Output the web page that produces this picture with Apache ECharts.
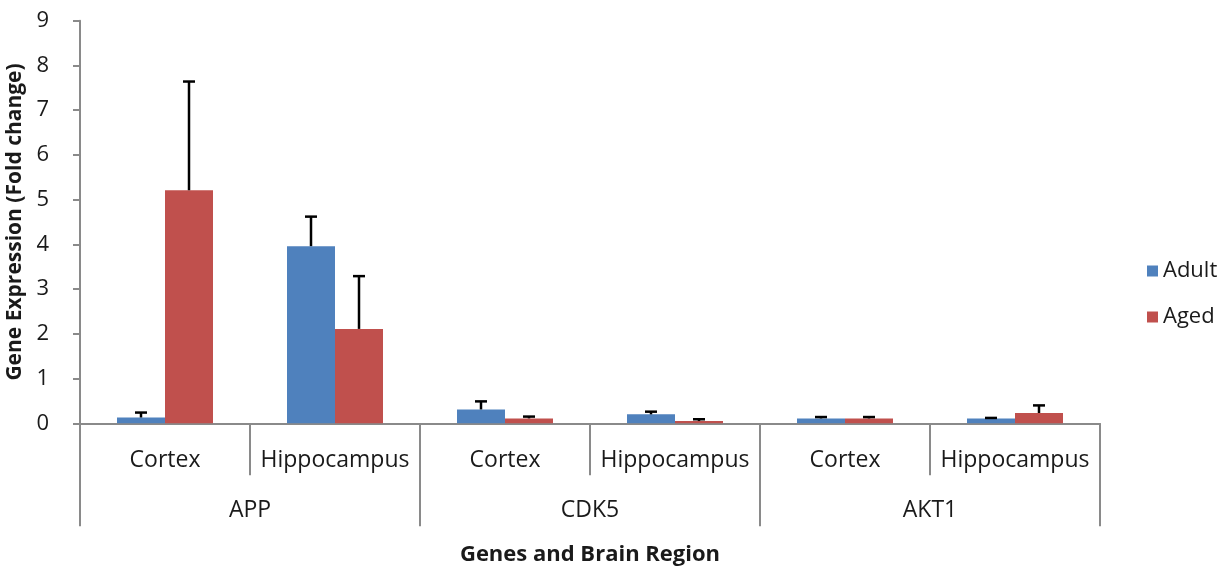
<!DOCTYPE html>
<html>
<head>
<meta charset="utf-8">
<script src="https://cdn.jsdelivr.net/npm/echarts@6/dist/echarts.min.js"></script>
<style>
  html, body { margin: 0; padding: 0; background: #ffffff; }
  #chart { width: 1230px; height: 566px; }
</style>
</head>
<body>
<div id="chart"></div>
<script>
// Brain regions (inner category level) and genes (outer level)
const regions = ['Cortex', 'Hippocampus', 'Cortex', 'Hippocampus', 'Cortex', 'Hippocampus'];
const genes = ['APP', 'CDK5', 'AKT1'];

// Mean fold change per region and group
const adultMean = [0.13, 3.96, 0.31, 0.20, 0.11, 0.11];
const agedMean = [5.21, 2.11, 0.11, 0.05, 0.11, 0.23];

// Upper error (standard deviation) per region and group
const adultErr = [0.11, 0.66, 0.18, 0.06, 0.03, 0.01];
const agedErr = [2.43, 1.18, 0.04, 0.04, 0.03, 0.17];

const yTicks = { min: 0, max: 9, interval: 1 };

const BLUE = '#4F81BD';
const RED = '#C0504D';
const AXIS = '#8a8a8a';
const TEXT = '#1a1a1a';
const FONT = 'Open Sans';
const BAR_W = 48;

function errorSeries(name, means, errs, side) {
  return {
    type: 'custom',
    name: name + ' error',
    xAxisIndex: 0,
    yAxisIndex: 0,
    z: 5,
    silent: true,
    data: means.map((m, i) => [i, m, m + errs[i]]),
    renderItem: function (params, api) {
      const base = api.coord([api.value(0), api.value(1)]);
      const top = api.coord([api.value(0), api.value(2)]);
      const x = base[0] + side * BAR_W / 2;
      const capHalf = 6;
      const style = { stroke: '#000000', lineWidth: 2.5 };
      return {
        type: 'group',
        children: [
          { type: 'line', shape: { x1: x, y1: base[1], x2: x, y2: top[1] }, style: style },
          { type: 'line', shape: { x1: x - capHalf, y1: top[1], x2: x + capHalf, y2: top[1] }, style: style }
        ]
      };
    }
  };
}

const chart = echarts.init(document.getElementById('chart'), null, { renderer: 'canvas' });

chart.setOption({
  animation: false,
  backgroundColor: '#ffffff',
  textStyle: { fontFamily: FONT },
  grid: {
    left: 80, right: 130, top: 20.7, bottom: 142.7,
    containLabel: false, outerBoundsMode: 'none'
  },
  legend: {
    orient: 'vertical',
    left: 1142,
    top: 255,
    data: ['Adult', 'Aged'],
    icon: 'rect',
    itemWidth: 11,
    itemHeight: 11,
    itemGap: 24,
    textStyle: { fontFamily: FONT, fontSize: 22, color: TEXT }
  },
  xAxis: [
    {
      type: 'category',
      data: regions,
      boundaryGap: true,
      axisLine: { lineStyle: { color: AXIS, width: 2 } },
      axisTick: { show: true, interval: 0, length: 52, lineStyle: { color: AXIS, width: 2 } },
      axisLabel: { interval: 0, margin: 26, fontFamily: FONT, fontSize: 23, color: TEXT }
    },
    {
      type: 'category',
      data: genes,
      position: 'bottom',
      offset: 52,
      boundaryGap: true,
      axisLine: { show: false },
      axisTick: { show: true, interval: 0, length: 51, lineStyle: { color: AXIS, width: 2 } },
      axisLabel: { interval: 0, margin: 24, fontFamily: FONT, fontSize: 23, color: TEXT },
      name: 'Genes and Brain Region',
      nameLocation: 'middle',
      nameGap: 68,
      nameTextStyle: { fontFamily: FONT, fontSize: 22, fontWeight: 'bold', color: TEXT }
    }
  ],
  yAxis: {
    type: 'value',
    min: yTicks.min,
    max: yTicks.max,
    interval: yTicks.interval,
    axisLine: { show: true, lineStyle: { color: AXIS, width: 2 } },
    axisTick: { show: true, length: 7, lineStyle: { color: AXIS, width: 2 } },
    splitLine: { show: false },
    axisLabel: { margin: 31, fontFamily: FONT, fontSize: 22, color: TEXT },
    name: 'Gene Expression (Fold change)',
    nameLocation: 'middle',
    nameGap: 43,
    nameTextStyle: { fontFamily: FONT, fontSize: 21, fontWeight: 'bold', color: TEXT }
  },
  series: [
    {
      name: 'Adult',
      type: 'bar',
      xAxisIndex: 0,
      data: adultMean,
      barWidth: BAR_W,
      barGap: '0%',
      itemStyle: { color: BLUE }
    },
    {
      name: 'Aged',
      type: 'bar',
      xAxisIndex: 0,
      data: agedMean,
      barWidth: BAR_W,
      barGap: '0%',
      itemStyle: { color: RED }
    },
    errorSeries('Adult', adultMean, adultErr, -1),
    errorSeries('Aged', agedMean, agedErr, 1)
  ]
});
</script>
</body>
</html>
